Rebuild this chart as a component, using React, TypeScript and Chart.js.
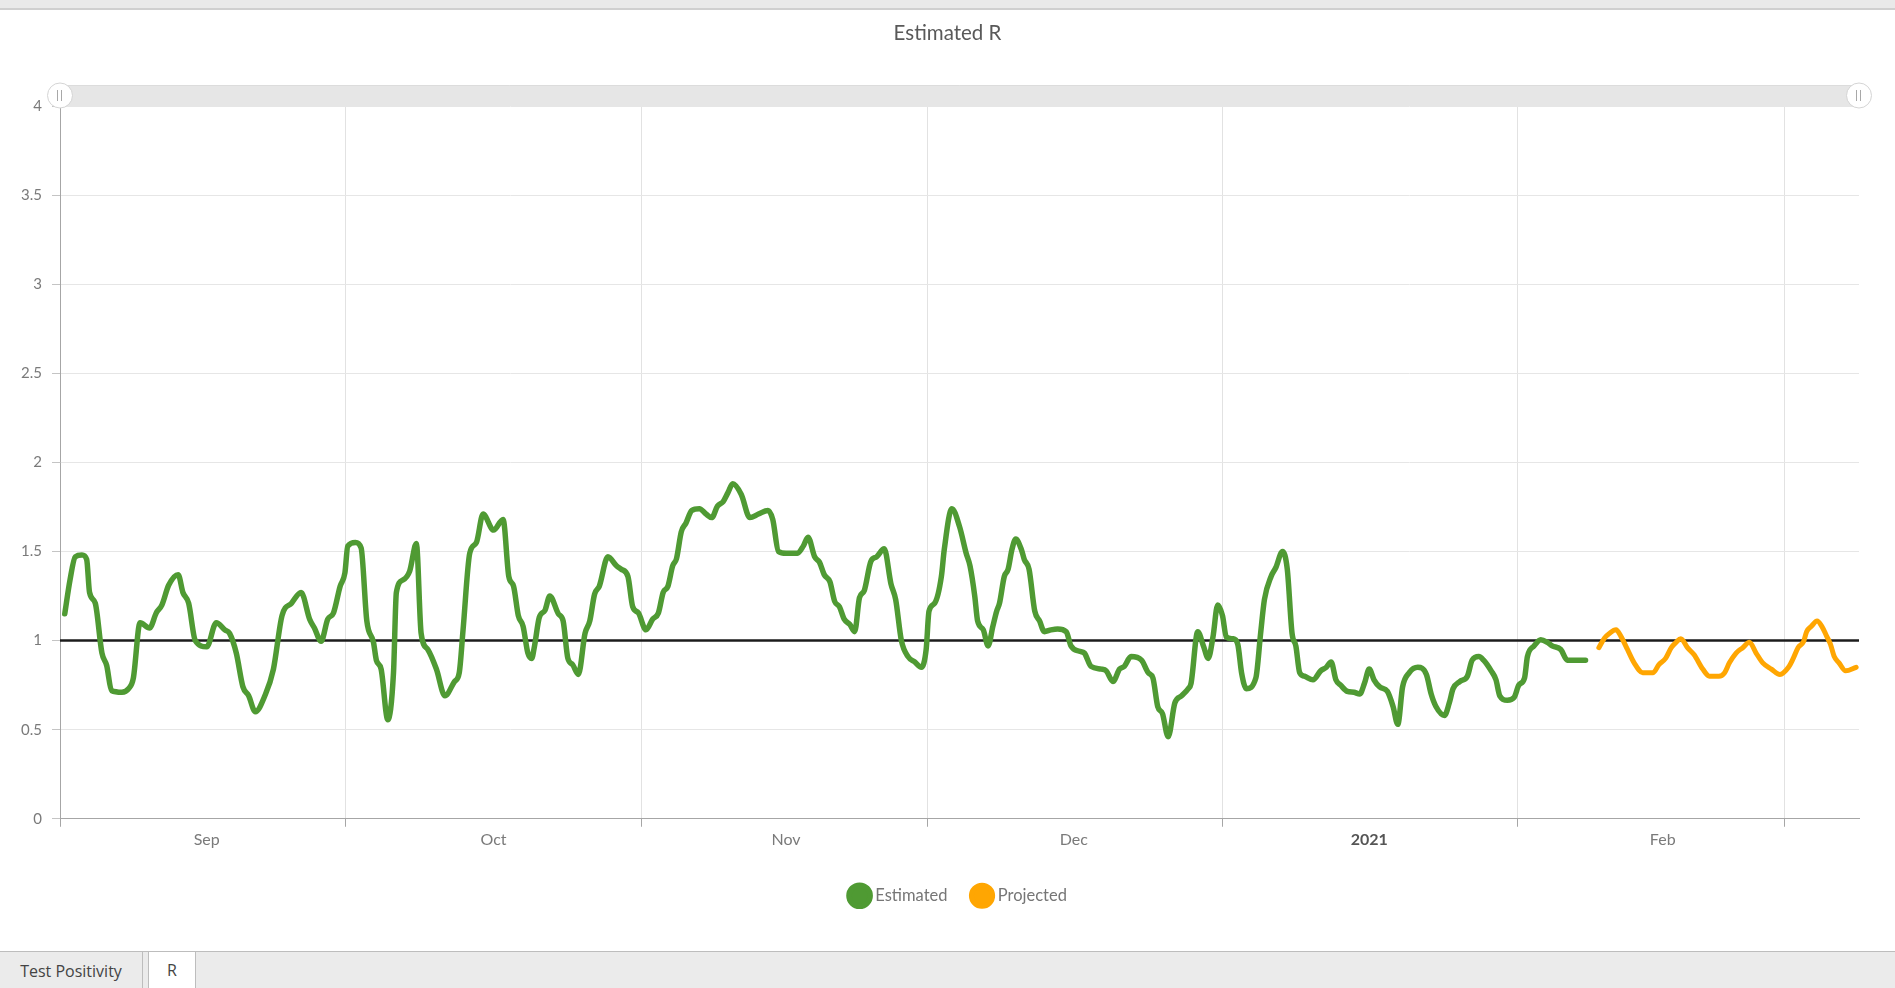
import React, { useEffect, useRef } from "react";
import { Chart, registerables } from "chart.js";

Chart.register(...registerables);

// ---- Data (x = days since 1 Sep 2020) ----
const monthStarts = [0, 30, 61, 91, 122, 153, 181];
const monthLabelPos = [15.4, 45.5, 76.2, 106.4, 137.4, 168.2];
const monthLabels = ["Sep", "Oct", "Nov", "Dec", "2021", "Feb"];
const yTickValues = [0, 0.5, 1, 1.5, 2, 2.5, 3, 3.5, 4];
const xMax = 188.8;
const thresholdValue = 1;

const estimatedDays = [
  0.5, 1.05, 1.6, 2.3, 2.8, 3.1, 3.7, 4.4, 4.9, 5.4, 6.5, 7.2, 7.7, 8.4, 9.4, 10.1, 10.7, 11.4, 12.4, 12.9,
  13.5, 14.2, 15.4, 16.4, 17.3, 17.8, 18.5, 19.2, 19.8, 20.5, 21.5, 22.4, 23.3, 24.3, 25.3, 26.2, 26.7, 27.4,
  28.1, 28.7, 29.4, 29.9, 30.2, 31.0, 31.6, 32.2, 32.9, 33.2, 33.7, 34.4, 35.0, 35.3, 36.0, 36.7, 37.4, 37.9,
  38.6, 39.5, 40.4, 41.4, 41.9, 42.3, 43.0, 43.7, 44.4, 45.5, 46.5, 47.1, 47.6, 48.1, 48.6, 49.1, 49.5, 49.8,
  50.3, 50.9, 51.4, 52.3, 52.8, 53.3, 53.8, 54.4, 55.1, 55.6, 56.1, 56.6, 57.5, 58.4, 58.9, 59.6, 60.1, 60.7,
  61.5, 62.2, 62.8, 63.3, 63.8, 64.3, 64.7, 65.2, 65.7, 66.3, 67.1, 67.8, 68.4, 69.0, 69.6, 70.1, 70.6, 71.5,
  72.4, 73.3, 74.3, 74.8, 75.4, 76.2, 77.4, 78.0, 78.5, 79.2, 79.7, 80.2, 80.8, 81.3, 81.8, 82.3, 82.9, 83.4,
  83.9, 84.4, 85.1, 85.7, 86.5, 87.2, 87.7, 88.3, 89.0, 89.7, 90.4, 90.9, 91.2, 91.8, 92.5, 92.8, 93.6, 94.4,
  95.1, 95.5, 96.0, 96.3, 96.9, 97.4, 97.9, 98.3, 98.6, 99.1, 99.5, 99.9, 100.3, 100.9, 101.2, 101.7, 102.3,
  102.8, 103.3, 104.0, 104.7, 105.6, 106.1, 107.0, 107.5, 108.2, 109.3, 109.8, 110.5, 111.2, 111.7, 112.4,
  113.5, 114.2, 114.7, 115.2, 115.7, 116.3, 117.0, 117.7, 118.4, 118.7, 119.4, 120.0, 120.5, 121.0, 121.5,
  122.0, 122.4, 123.1, 123.6, 124.0, 124.5, 125.5, 126.0, 126.4, 127.1, 127.6, 128.3, 128.8, 129.3, 129.7,
  130.1, 130.6, 131.5, 132.3, 132.9, 133.4, 133.9, 134.4, 135.1, 135.8, 136.4, 136.9, 137.4, 137.9, 138.5,
  139.3, 139.9, 140.4, 140.9, 141.6, 142.5, 143.4, 143.9, 144.4, 145.3, 145.8, 146.2, 146.9, 147.7, 148.2,
  148.9, 149.4, 150.2, 150.7, 151.1, 151.9, 152.6, 153.1, 153.7, 154.0, 154.7, 155.4, 156.1, 156.6, 157.5,
  158.2, 159.3, 160.1,
];
const estimatedValues = [
  1.15, 1.34, 1.47, 1.48, 1.455, 1.27, 1.21, 0.93, 0.86, 0.72, 0.71, 0.73, 0.79, 1.1, 1.07, 1.155, 1.2, 1.31, 1.37, 1.27,
  1.21, 1.0, 0.965, 1.1, 1.06, 1.04, 0.93, 0.74, 0.69, 0.6, 0.69, 0.84, 1.14, 1.21, 1.27, 1.12, 1.07, 0.996,
  1.12, 1.155, 1.305, 1.38, 1.53, 1.55, 1.52, 1.11, 0.99, 0.89, 0.84, 0.556, 0.82, 1.27, 1.34, 1.39, 1.545, 1.04,
  0.95, 0.84, 0.69, 0.77, 0.82, 1.06, 1.49, 1.55, 1.71, 1.62, 1.68, 1.36, 1.305, 1.14, 1.08, 0.93, 0.9, 0.97,
  1.13, 1.17, 1.25, 1.15, 1.11, 0.9, 0.865, 0.81, 1.04, 1.11, 1.26, 1.305, 1.47, 1.42, 1.4, 1.36, 1.19, 1.155,
  1.06, 1.12, 1.155, 1.27, 1.305, 1.42, 1.46, 1.61, 1.66, 1.73, 1.74, 1.71, 1.69, 1.755, 1.78, 1.83, 1.88, 1.82,
  1.69, 1.71, 1.73, 1.68, 1.5, 1.49, 1.49, 1.53, 1.58, 1.47, 1.44, 1.37, 1.33, 1.22, 1.19, 1.12, 1.09, 1.05,
  1.24, 1.28, 1.445, 1.47, 1.515, 1.32, 1.23, 1.0, 0.91, 0.88, 0.85, 0.95, 1.165, 1.21, 1.36, 1.51, 1.74, 1.64,
  1.49, 1.42, 1.25, 1.11, 1.06, 0.97, 1.08, 1.165, 1.21, 1.36, 1.4, 1.51, 1.57, 1.51, 1.455, 1.4, 1.165,
  1.11, 1.05, 1.06, 1.065, 1.05, 0.97, 0.94, 0.93, 0.855, 0.84, 0.83, 0.77, 0.84, 0.855, 0.91,
  0.89, 0.82, 0.79, 0.63, 0.59, 0.46, 0.65, 0.69, 0.73, 0.76, 1.05, 0.97, 0.9, 1.02, 1.2,
  1.14, 1.02, 1.01, 0.98, 0.82, 0.73, 0.79, 1.04, 1.23, 1.36, 1.41, 1.5, 1.4, 1.04, 0.97,
  0.82, 0.8, 0.78, 0.83, 0.85, 0.88, 0.78, 0.75, 0.715, 0.71, 0.7, 0.76, 0.84, 0.78, 0.74,
  0.715, 0.63, 0.53, 0.74, 0.82, 0.85, 0.81, 0.7, 0.63, 0.58, 0.65, 0.73, 0.77, 0.8, 0.89,
  0.91, 0.89, 0.83, 0.78, 0.69, 0.665, 0.68, 0.75, 0.79, 0.91, 0.97, 1.005, 0.99, 0.97, 0.95,
  0.89, 0.89, 0.89,
];

const projectedDays = [
  161.5, 162.1, 162.6, 163.3, 163.8, 164.5, 165.2, 166.1, 167.2, 167.8, 168.5, 169.1, 169.6, 170.1, 170.8,
  171.5, 172.4, 173.1, 174.1, 174.7, 175.2, 175.9, 176.6, 177.3, 178.0, 178.7, 179.6, 180.5, 181.4, 181.9,
  182.4, 183.0, 183.3, 183.8, 184.4, 184.9, 185.4, 185.8, 186.2, 186.7, 187.4, 188.5,
];
const projectedValues = [
  0.96, 1.015, 1.04, 1.06, 1.025, 0.95, 0.875, 0.82, 0.82, 0.865, 0.9, 0.96, 0.99, 1.01, 0.96,
  0.92, 0.84, 0.8, 0.8, 0.82, 0.875, 0.93, 0.96, 0.99, 0.93, 0.875, 0.84, 0.81, 0.85, 0.9,
  0.96, 0.996, 1.05, 1.08, 1.11, 1.08, 1.025, 0.98, 0.91, 0.875, 0.83, 0.85,
];

const GREEN = "#4f9a33";
const ORANGE = "#ffa602";
const FONT = "Lato, 'Open Sans', sans-serif";
const BOLD_LABEL = "2021";

const toPoints = (xs: number[], ys: number[]) => xs.map((x, i) => ({ x, y: ys[i] }));
const labelAt = (v: number) => {
  const i = monthLabelPos.indexOf(v);
  return i >= 0 ? monthLabels[i] : "";
};

const scrollbarPlugin = {
  id: "scrollbar",
  afterDraw(chart: any) {
    const { ctx, chartArea } = chart;
    const h = 21;
    const top = chartArea.top - h;
    ctx.save();
    ctx.fillStyle = "#e6e6e6";
    ctx.fillRect(chartArea.left, top, chartArea.right - chartArea.left, h);
    ctx.strokeStyle = "#dcdcdc";
    ctx.lineWidth = 1;
    ctx.beginPath();
    ctx.moveTo(chartArea.left, top + 0.5);
    ctx.lineTo(chartArea.right, top + 0.5);
    ctx.stroke();
    const cy = top + h / 2;
    [chartArea.left, chartArea.right].forEach((cx: number) => {
      ctx.beginPath();
      ctx.arc(cx, cy, 12.5, 0, Math.PI * 2);
      ctx.fillStyle = "#ffffff";
      ctx.fill();
      ctx.strokeStyle = "#d4d4d4";
      ctx.lineWidth = 1;
      ctx.stroke();
      ctx.strokeStyle = "#a8a8a8";
      ctx.lineWidth = 1;
      ctx.beginPath();
      ctx.moveTo(cx - 2.5, cy - 5.5);
      ctx.lineTo(cx - 2.5, cy + 5.5);
      ctx.moveTo(cx + 1.5, cy - 5.5);
      ctx.lineTo(cx + 1.5, cy + 5.5);
      ctx.stroke();
    });
    ctx.restore();
  },
};

function RChart() {
  const ref = useRef<HTMLCanvasElement | null>(null);
  useEffect(() => {
    if (!ref.current) return;
    const chart = new Chart(ref.current, {
      type: "line",
      data: {
        datasets: [
          {
            label: "Estimated",
            data: toPoints(estimatedDays, estimatedValues),
            borderColor: GREEN,
            backgroundColor: GREEN,
            borderWidth: 5.5,
            pointRadius: 0,
            cubicInterpolationMode: "monotone",
            borderJoinStyle: "round",
            borderCapStyle: "round",
          },
          {
            label: "Projected",
            data: toPoints(projectedDays, projectedValues),
            borderColor: ORANGE,
            backgroundColor: ORANGE,
            borderWidth: 5,
            pointRadius: 0,
            cubicInterpolationMode: "monotone",
            borderJoinStyle: "round",
            borderCapStyle: "round",
          },
          {
            label: "Threshold",
            data: [
              { x: 0, y: thresholdValue },
              { x: xMax, y: thresholdValue },
            ],
            borderColor: "#1c1c1c",
            backgroundColor: "#1c1c1c",
            borderWidth: 2.5,
            pointRadius: 0,
          },
        ],
      },
      options: {
        animation: false,
        responsive: false,
        devicePixelRatio: 1,
        layout: { padding: { left: 0, right: 0, top: 0, bottom: 36 } },
        plugins: {
          tooltip: { enabled: false },
          title: {
            display: true,
            fullSize: true,
            text: "Estimated R",
            color: "#595959",
            font: { family: FONT, size: 20.5, weight: "normal" },
            padding: { top: 20.7, bottom: 60.7 },
          },
          legend: {
            display: true,
            position: "bottom",
            fullSize: false,
            labels: {
              usePointStyle: true,
              pointStyle: "circle",
              boxWidth: 15,
              boxHeight: 15,
              padding: 27,
              color: "#767676",
              font: { family: FONT, size: 16.5 },
              filter: (item: any) => item.datasetIndex < 2,
            },
          },
        },
        scales: {
          x: {
            type: "linear",
            min: 0,
            max: xMax,
            afterBuildTicks: (axis: any) => {
              const vals = [...monthStarts, ...monthLabelPos].sort((a, b) => a - b);
              axis.ticks = vals.map((v) => ({ value: v }));
            },
            afterFit: (axis: any) => {
              axis.height = 41.75;
            },
            border: { color: "#a6a6a6", width: 1 },
            grid: {
              color: (c: any) => (c.tick && monthStarts.includes(c.tick.value) ? "#e2e2e2" : "rgba(0,0,0,0)"),
              tickColor: (c: any) => (c.tick && monthStarts.includes(c.tick.value) ? "#a6a6a6" : "rgba(0,0,0,0)"),
              tickLength: 8,
              lineWidth: 1,
            },
            ticks: {
              autoSkip: false,
              maxRotation: 0,
              minRotation: 0,
              padding: 3,
              color: (c: any) => (c.tick && labelAt(c.tick.value) === BOLD_LABEL ? "#555555" : "#7a7a7a"),
              font: (c: any) => ({
                family: FONT,
                size: 16,
                weight: c.tick && labelAt(c.tick.value) === BOLD_LABEL ? "bold" : "normal",
              }),
              callback: (v: any) => labelAt(Number(v)),
            },
          },
          y: {
            type: "linear",
            min: 0,
            max: 4,
            afterBuildTicks: (axis: any) => {
              axis.ticks = yTickValues.map((v) => ({ value: v }));
            },
            afterFit: (axis: any) => {
              axis.width = 60;
            },
            border: { color: "#a6a6a6", width: 1 },
            grid: {
              color: "#e6e6e6",
              tickColor: "#c4c4c4",
              tickLength: 8,
            },
            ticks: {
              padding: 10,
              color: "#7a7a7a",
              font: { family: FONT, size: 15 },
              callback: (v: any) => String(v),
            },
          },
          yRightGutter: {
            type: "linear",
            position: "right",
            display: true,
            min: 0,
            max: 4,
            afterFit: (axis: any) => {
              axis.width = 36;
            },
            border: { display: false },
            grid: { display: false, drawTicks: false },
            ticks: { display: false },
          },
        },
      },
      plugins: [scrollbarPlugin],
    } as any);
    return () => chart.destroy();
  }, []);
  return <canvas ref={ref} width={1895} height={950} style={{ display: "block", width: 1895, height: 950 }} />;
}

export default function App() {
  const tabFont = "'Open Sans', 'Noto Sans', sans-serif";
  return (
    <div style={{ position: "absolute", left: 0, top: 0, width: 1895, height: 988, overflow: "hidden", background: "#fff" }}>
      <div style={{ position: "absolute", left: 0, top: 0, width: 1895, height: 950 }}>
        <RChart />
      </div>
      <div
        style={{
          position: "absolute",
          left: 0,
          top: 0,
          width: 1895,
          height: 8,
          background: "#e9e9e9",
          borderBottom: "2px solid #cfcfcf",
        }}
      />
      <div
        style={{
          position: "absolute",
          left: 0,
          top: 951,
          width: 1895,
          height: 37,
          background: "#ebebeb",
          borderTop: "1px solid #bdbdbd",
          fontFamily: tabFont,
          fontSize: 16,
          color: "#444",
        }}
      >
        <div
          style={{
            position: "absolute",
            left: 0,
            top: 0,
            width: 142,
            height: 37,
            borderRight: "1px solid #bdbdbd",
            display: "flex",
            alignItems: "center",
            justifyContent: "center",
          }}
        >
          Test Positivity
        </div>
        <div
          style={{
            position: "absolute",
            left: 148,
            top: -1,
            width: 46,
            height: 36,
            background: "#ffffff",
            borderLeft: "1px solid #bdbdbd",
            borderRight: "1px solid #bdbdbd",
            borderTop: "1px solid #bdbdbd",
            borderBottom: "2px solid #3b8ac4",
            display: "flex",
            alignItems: "center",
            justifyContent: "center",
          }}
        >
          R
        </div>
      </div>
    </div>
  );
}
